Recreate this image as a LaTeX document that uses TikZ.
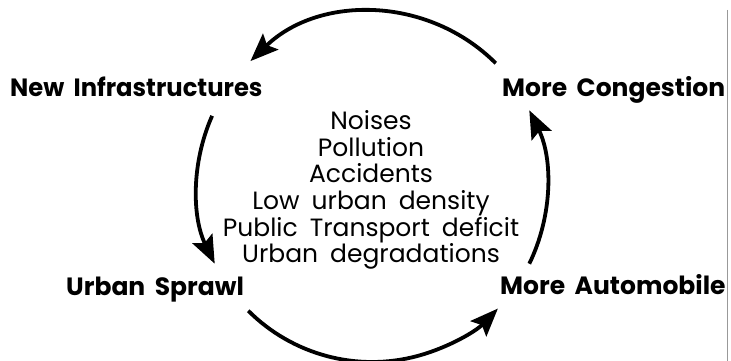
\documentclass[tikz,border=0pt]{standalone}
\usepackage{fontspec}
\setmainfont{Poppins}[WordSpace={1.8}]
\usetikzlibrary{arrows.meta}
\begin{document}
\begin{tikzpicture}[x=1pt,y=1pt,
  stage/.style={font=\bfseries\fontsize{25}{28}\selectfont, inner sep=0pt},
  effects/.style={font=\fontsize{25}{26.6}\selectfont, align=center, inner sep=0pt},
  loop/.style={line width=3.8pt, -{Stealth[length=28pt,width=22pt,inset=5pt]}},
]
\useasboundingbox (0,0) rectangle (731,361);
% centre of the feedback circle
\coordinate (c) at (372,174);

% the four stages of the cycle
\node[stage, anchor=base west] (infra) at (10,264) {\scalebox{0.97}[1]{New Infrastructures}};
\node[stage, anchor=base west] (cong)  at (502,264) {More Congestion};
\node[stage, anchor=base west] (sprawl) at (66,65) {Urban Sprawl};
\node[stage, anchor=base west] (auto)  at (500,66) {More Automobile};

% side effects in the middle
\node[effects] (fx) at (371,171) {Noises\\Pollution\\Accidents\\Low urban density\\Public Transport deficit\\Urban degradations};

% the circular arrows
\draw[loop] ([shift={(45:175)}]c) arc[start angle=45, end angle=134, radius=175];
\draw[loop] ([shift={(156:175)}]c) arc[start angle=156, end angle=206, radius=175];
\draw[loop] ([shift={(225:175)}]c) arc[start angle=225, end angle=316, radius=175];
\draw[loop] ([shift={(-26:175)}]c) arc[start angle=-26, end angle=26, radius=175];

% frame edge on the right
\draw[black!40, line width=1.5pt] (727.5,351) -- (727.5,0);
\end{tikzpicture}
\end{document}
